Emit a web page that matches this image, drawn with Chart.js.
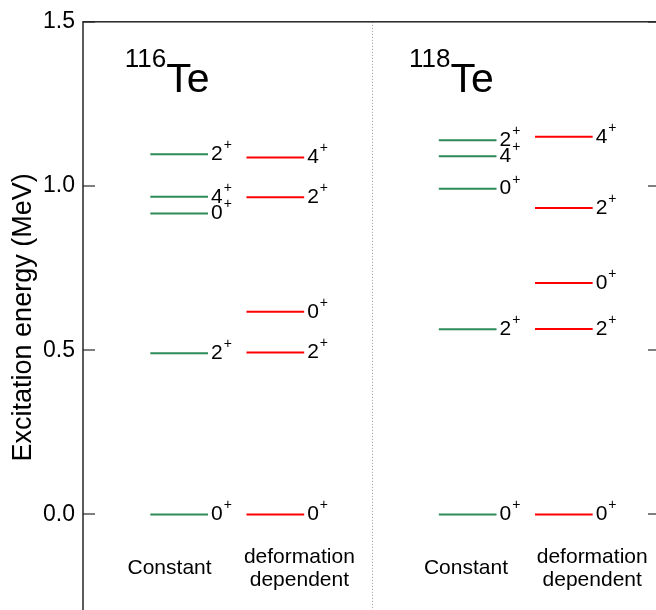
<!DOCTYPE html>
<html>
<head>
<meta charset="utf-8">
<script src="https://cdn.jsdelivr.net/npm/chart.js@4"></script>
<style>
  html, body { margin: 0; padding: 0; overflow: hidden; background: #fff; width: 656px; height: 610px; }
  #wrap { position: absolute; left: 0; top: 0; width: 700px; height: 640px; }
</style>
</head>
<body>
<div id="wrap"><canvas id="c" width="700" height="640"></canvas></div>
<script>
// Low-lying 0+, 2+, 4+ levels (MeV) for two moment-of-inertia prescriptions
const te116Constant      = [0.000, 0.491, 0.916, 0.967, 1.097];
const te116ConstantSpins = ['0', '2', '0', '4', '2'];
const te116Deformed      = [0.000, 0.493, 0.617, 0.966, 1.087];
const te116DeformedSpins = ['0', '2', '0', '2', '4'];
const te118Constant      = [0.000, 0.564, 0.992, 1.091, 1.139];
const te118ConstantSpins = ['0', '2', '0', '4', '2'];
const te118Deformed      = [0.000, 0.565, 0.705, 0.933, 1.150];
const te118DeformedSpins = ['0', '2', '0', '2', '4'];

const nuclei      = [{ mass: '116', symbol: 'Te' }, { mass: '118', symbol: 'Te' }];
const schemeNames = [['Constant'], ['deformation', 'dependent']];
const yTicks      = [0.0, 0.5, 1.0, 1.5];

// Layout of the columns on a 0..4 horizontal scale
const GREEN = '#2e8b57', RED = '#ff0000';
const HALF = 0.2;
const columns = [
  { x: 2 / 3,  energies: te116Constant, spins: te116ConstantSpins, color: GREEN, scheme: 0, nameX: 0.60 },
  { x: 4 / 3,  energies: te116Deformed, spins: te116DeformedSpins, color: RED,   scheme: 1, nameX: 1.50 },
  { x: 8 / 3,  energies: te118Constant, spins: te118ConstantSpins, color: GREEN, scheme: 0, nameX: 2.655 },
  { x: 10 / 3, energies: te118Deformed, spins: te118DeformedSpins, color: RED,   scheme: 1, nameX: 3.53 }
];
const nucleusX = [0.29, 2.26];
const FONT = '"Liberation Sans", Arial, Helvetica, sans-serif';

const datasets = [];
columns.forEach(col => {
  col.energies.forEach(e => {
    datasets.push({
      data: [{ x: col.x - HALF, y: e }, { x: col.x + HALF, y: e }],
      showLine: true,
      borderColor: col.color,
      borderWidth: 2,
      pointRadius: 0,
      fill: false
    });
  });
});

const decorations = {
  id: 'decorations',
  afterDraw(chart) {
    const { ctx, chartArea: a, scales: { x, y } } = chart;
    ctx.save();

    // dotted separator between the two nuclei
    ctx.strokeStyle = '#999';
    ctx.lineWidth = 1;
    ctx.setLineDash([1, 2]);
    const xs = Math.round(x.getPixelForValue(2)) + 0.5;
    ctx.beginPath();
    ctx.moveTo(xs, a.top);
    ctx.lineTo(xs, a.bottom);
    ctx.stroke();
    ctx.setLineDash([]);

    // inward tick marks on both vertical axes
    ctx.strokeStyle = '#555';
    ctx.lineWidth = 1.5;
    yTicks.forEach(v => {
      const py = Math.round(y.getPixelForValue(v));
      ctx.beginPath();
      ctx.moveTo(a.left, py); ctx.lineTo(a.left + 12, py);
      ctx.moveTo(a.right, py); ctx.lineTo(a.right - 12, py);
      ctx.stroke();
    });

    // frame
    ctx.strokeStyle = '#262626';
    ctx.lineWidth = 1.5;
    ctx.strokeRect(a.left, a.top, a.right - a.left, a.bottom - a.top);

    // spin-parity labels next to each level
    ctx.fillStyle = '#000';
    ctx.textBaseline = 'middle';
    ctx.textAlign = 'left';
    columns.forEach(col => {
      const lx = x.getPixelForValue(col.x + HALF) + 3;
      col.energies.forEach((e, i) => {
        const py = y.getPixelForValue(e);
        ctx.font = '21px ' + FONT;
        ctx.fillText(col.spins[i], lx, py);
        const w = ctx.measureText(col.spins[i]).width;
        ctx.font = '14px ' + FONT;
        ctx.fillText('+', lx + w + 1, py - 9);
      });
    });

    // nucleus names
    ctx.textBaseline = 'alphabetic';
    nuclei.forEach((n, i) => {
      const px = x.getPixelForValue(nucleusX[i]);
      ctx.font = '26px ' + FONT;
      ctx.fillText(n.mass, px, 67);
      const w = ctx.measureText(n.mass).width;
      ctx.font = '41px ' + FONT;
      ctx.fillText(n.symbol, px + w, 92);
    });

    // scheme names under the columns
    ctx.textAlign = 'center';
    ctx.font = '21px ' + FONT;
    columns.forEach(col => {
      const lines = schemeNames[col.scheme];
      const px = x.getPixelForValue(col.nameX);
      const base = y.getPixelForValue(-0.182);
      lines.forEach((t, k) => {
        const off = (k - (lines.length - 1) / 2) * 23;
        ctx.fillText(t, px, base + off);
      });
    });

    ctx.restore();
  }
};

new Chart(document.getElementById('c'), {
  type: 'scatter',
  data: { datasets },
  options: {
    responsive: false,
    animation: false,
    devicePixelRatio: 1,
    layout: { padding: { top: 20, right: 40, bottom: 27, left: 0 } },
    plugins: { legend: { display: false }, tooltip: { enabled: false } },
    scales: {
      x: { type: 'linear', min: 0, max: 4, display: false },
      y: {
        type: 'linear',
        min: -0.3,
        max: 1.5,
        afterBuildTicks(s) { s.ticks = yTicks.map(v => ({ value: v })); },
        afterFit(s) { s.width = 83; },
        grid: { display: false, drawTicks: false },
        border: { display: false },
        ticks: {
          color: '#000',
          padding: 8,
          font: { size: 23, family: FONT },
          callback: v => Number(v).toFixed(1)
        },
        title: {
          display: true,
          text: 'Excitation energy (MeV)',
          color: '#000',
          font: { size: 27, family: FONT },
          padding: { top: 7, bottom: 0 }
        }
      }
    }
  },
  plugins: [decorations]
});
</script>
</body>
</html>
